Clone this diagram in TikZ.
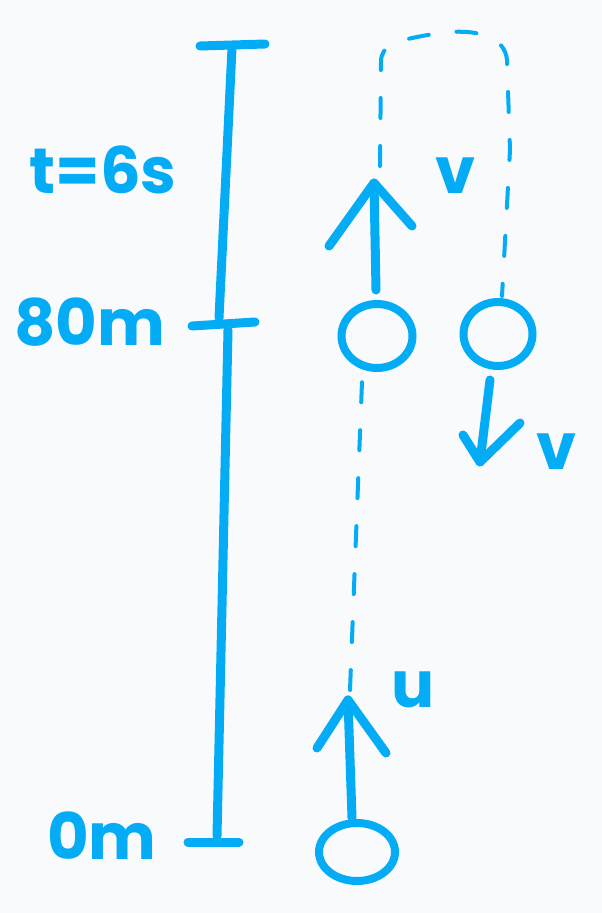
\documentclass[tikz,border=0pt]{standalone}
\usepackage{fontspec}
\setmainfont{Poppins}
\usetikzlibrary{shapes.geometric}
\definecolor{skyb}{RGB}{3,172,245}
\definecolor{paper}{RGB}{249,250,251}
\begin{document}
\begin{tikzpicture}[x=1pt,y=-1pt,
  ink/.style={draw=skyb, line width=9pt, line cap=round, line join=round},
  dashline/.style={draw=skyb, line width=4pt, line cap=round, dash pattern=on 20pt off 28pt},
  ball/.style={ellipse, draw=skyb, line width=8pt, inner sep=0pt},
  lbl/.style={text=skyb, font=\fontsize{64}{64}\selectfont\bfseries, inner sep=0pt}]
\fill[paper] (0,0) rectangle (602,913);
\useasboundingbox (0,0) rectangle (602,913);

% scale bar
\coordinate (topL) at (200,46); \coordinate (topR) at (265,44);
\coordinate (s1) at (232,48); \coordinate (s2) at (219,318);
\coordinate (midL) at (192,326); \coordinate (midR) at (255,322);
\coordinate (s3) at (228,330); \coordinate (s4) at (217,836);
\coordinate (botL) at (188,842); \coordinate (botR) at (239,842);
\draw[ink] (topL) -- (topR);
\draw[ink] (s1) -- (s2);
\draw[ink] (midL) -- (midR);
\draw[ink] (s3) -- (s4);
\draw[ink] (botL) -- (botR);

% labels
\node[lbl] (t6) at (103,170) {t=6s};
\node[lbl] (m80) at (90,322) {80m};
\node[lbl] (m0) at (102,836) {0m};

% balls
\node[ball, minimum width=76pt, minimum height=58pt] (b0) at (357,852) {};
\node[ball, minimum width=71pt, minimum height=64pt] (b1) at (377,336) {};
\node[ball, minimum width=69pt, minimum height=64pt] (b2) at (498,334) {};

% arrow u
\coordinate (uTip) at (348,700);
\coordinate (uStart) at (352,818);
\coordinate (uL) at (317,748); \coordinate (uR) at (386,753);
\draw[ink] (uStart) -- (uTip);
\draw[ink] (uL) -- (uTip) -- (uR);
\node[lbl] (u) at (413,690) {u};

% dashed from u to ball 1
\coordinate (dA) at (350,690);
\coordinate (dB) at (362,382);
\draw[dashline] (dA) -- (dB);

% arrow v up
\coordinate (vTip) at (374,183);
\coordinate (vStart) at (376,290);
\coordinate (vL) at (329,246); \coordinate (vR) at (412,226);
\draw[ink] (vStart) -- (vTip);
\draw[ink] (vL) -- (vTip) -- (vR);
\node[lbl] (v1) at (456,176) {v};

% dashed loop over the top
\coordinate (d0) at (380,166);
\coordinate (d1) at (502,296);
\draw[dashline] (d0) -- (381,62) .. controls (381,45) and (395,40) .. (440,33)
   .. controls (480,28) and (505,38) .. (507,60) -- (510,150) -- (d1);

% arrow v down
\coordinate (wTip) at (480,462);
\coordinate (wStart) at (490,380);
\coordinate (wL) at (463,435); \coordinate (wR) at (520,423);
\draw[ink] (wStart) -- (wTip);
\draw[ink] (wL) -- (wTip) -- (wR);
\node[lbl] (v2) at (557,452) {v};
\end{tikzpicture}
\end{document}
